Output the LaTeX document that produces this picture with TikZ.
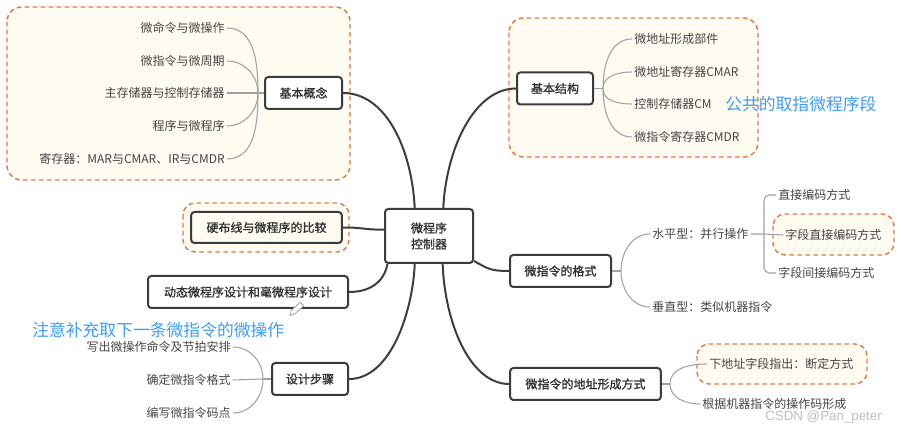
\documentclass[tikz,border=0pt]{standalone}
\usepackage{fontspec}
\usepackage{xcolor}
\setmainfont{Noto Sans CJK SC}
\newfontfamily\boxfont{Noto Sans CJK SC}[FakeBold=1]
\newfontfamily\wmfont{Liberation Sans}

\definecolor{boxline}{HTML}{3B3B3B}
\definecolor{boxtext}{HTML}{303030}
\definecolor{leaftext}{HTML}{454545}
\definecolor{trunkcol}{HTML}{3E3E3E}
\definecolor{twigcol}{HTML}{A2A2A2}
\definecolor{dashorange}{HTML}{E2793F}
\definecolor{cream}{HTML}{FEFBF1}
\definecolor{noteblue}{HTML}{3E9DF2}
\definecolor{wmgray}{HTML}{BDBDBD}

\tikzset{
  topic/.style={draw=boxline, line width=1.5pt, rounded corners=2.5pt, fill=white,
    text=boxtext, minimum height=24pt, inner sep=0pt, font=\boxfont\fontsize{9}{12}\selectfont},
  leaf/.style={text=leaftext, inner sep=1.5pt, font=\fontsize{9}{12}\selectfont},
  trunk/.style={draw=trunkcol, line width=1.5pt},
  twig/.style={draw=twigcol, line width=0.8pt},
  group/.style={draw=dashorange, fill=cream, dash pattern=on 3.5pt off 2.5pt, line width=1.1pt},
  note/.style={text=noteblue, inner sep=0pt, font=\fontsize{12.6}{14}\selectfont}
}

\begin{document}
\begin{tikzpicture}[x=0.75pt,y=-0.75pt]
\useasboundingbox (0,0) rectangle (900,434);

% dashed groups
\draw[group, rounded corners=11pt] (7,7) rectangle (350,180);
\draw[group, rounded corners=11pt] (509,18) rectangle (758,157);
\draw[group, rounded corners=9pt] (183,203) rectangle (349,252);
\draw[group, rounded corners=9pt] (773,214) rectangle (894,255);
\draw[group, rounded corners=9pt] (697,344) rectangle (867,384);

% main topics
\node[topic, minimum width=66pt, minimum height=40.5pt, align=center] (ctrl) at (429,236) {微程序\\控制器};
\node[topic, minimum width=57.75pt] (gn) at (303.5,93) {基本概念};
\node[topic, minimum width=57pt] (jg) at (555,88.5) {基本结构};
\node[topic, minimum width=113pt, minimum height=23.25pt, fill=cream] (yb) at (266.5,227.5) {硬布线与微程序的比较};
\node[topic, minimum width=150pt] (dt) at (248,292) {动态微程序设计和毫微程序设计};
\node[topic, minimum width=57pt] (sj) at (310,379) {设计步骤};
\node[topic, minimum width=75.75pt] (gs) at (560.5,271) {微指令的格式};
\node[topic, minimum width=113pt] (dz) at (585.5,384) {微指令的地址形成方式};

% trunks
\draw[trunk] (gn.east) .. controls +(43,0) and +(-3,-59) .. (ctrl.117);
\draw[trunk] (jg.west) .. controls +(-42,0) and +(3,-59) .. (ctrl.63);
\draw[trunk] (yb.east) .. controls +(22,0) and +(-22,0) .. (ctrl.172);
\draw[trunk] (dt.east) .. controls +(27,0) and +(-2,12) .. (ctrl.214);
\draw[trunk] (sj.east) .. controls +(42,0) and +(-2,47) .. (ctrl.243);
\draw[trunk] (gs.west) .. controls +(-18,0) and +(14,8) .. (ctrl.331);
\draw[trunk] (dz.west) .. controls +(-40,0) and +(2,57) .. (ctrl.296);

% 基本概念
\node[leaf, anchor=east] (gn1) at (227,28) {微命令与微操作};
\node[leaf, anchor=east] (gn2) at (227,61) {微指令与微周期};
\node[leaf, anchor=east] (gn3) at (227,93) {主存储器与控制存储器};
\node[leaf, anchor=east] (gn4) at (227,126) {程序与微程序};
\node[leaf, anchor=east] (gn5) at (227,159) {寄存器：MAR与CMAR、IR与CMDR};
\coordinate (gnj) at (258,93);
\draw[twig] (gn.west) -- (gnj);
\draw[twig] (gn1.east) to[out=0,in=90] (gnj);
\draw[twig] (gn2.east) to[out=0,in=90] (gnj);
\draw[twig] (gn3.east) -- (gnj);
\draw[twig] (gn4.east) to[out=0,in=-90] (gnj);
\draw[twig] (gn5.east) to[out=0,in=-90] (gnj);

% 基本结构
\node[leaf, anchor=west] (jg1) at (632,39) {微地址形成部件};
\node[leaf, anchor=west] (jg2) at (632,72) {微地址寄存器CMAR};
\node[leaf, anchor=west] (jg3) at (632,104) {控制存储器CM};
\node[leaf, anchor=west] (jg4) at (632,137) {微指令寄存器CMDR};
\coordinate (jgj) at (603,88.5);
\draw[twig] (jg.east) -- (jgj);
\draw[twig] (jgj) to[out=90,in=180] (jg1.west);
\draw[twig] (jgj) to[out=90,in=180] (jg2.west);
\draw[twig] (jgj) to[out=-90,in=180] (jg3.west);
\draw[twig] (jgj) to[out=-90,in=180] (jg4.west);
\node[note, anchor=west] (gg) at (725,104) {公共的取指微程序段};

% 设计步骤
\node[leaf, anchor=east] (sj1) at (233,347) {写出微操作命令及节拍安排};
\node[leaf, anchor=east] (sj2) at (233,380) {确定微指令格式};
\node[leaf, anchor=east] (sj3) at (233,413) {编写微指令码点};
\coordinate (sjj) at (263,379);
\draw[twig] (sj.west) -- (sjj);
\draw[twig] (sj1.east) to[out=0,in=90] (sjj);
\draw[twig] (sj2.east) -- (sjj);
\draw[twig] (sj3.east) to[out=0,in=-90] (sjj);
\node[note, anchor=west] (zy) at (32,330) {注意补充取下一条微指令的微操作};

% pencil mark
\draw[twigcol, fill=white, line width=0.6pt, line join=round] (300.3,302.2) -- (303.7,305.8) -- (294.6,314.1) -- (290,315.5) -- (291.2,310.5) -- cycle;

% 微指令的格式
\node[leaf, anchor=west] (sp) at (650,234) {水平型：并行操作};
\node[leaf, anchor=west] (cz) at (650,307) {垂直型：类似机器指令};
\coordinate (gsj) at (621,271);
\draw[twig] (gs.east) -- (gsj);
\draw[twig] (gsj) to[out=90,in=180] (sp.west);
\draw[twig] (gsj) to[out=-90,in=180] (cz.west);
\node[leaf, anchor=west] (zj) at (776,195) {直接编码方式};
\node[leaf, anchor=west] (zd) at (783,235) {字段直接编码方式};
\node[leaf, anchor=west] (jj) at (776,273) {字段间接编码方式};
\coordinate (spj) at (764,234);
\draw[twig] (sp.east) -- (spj) -- (zd.west);
\draw[twig, rounded corners=4pt] (spj) |- (zj.west);
\draw[twig, rounded corners=4pt] (spj) |- (jj.west);

% 微指令的地址形成方式
\node[leaf, anchor=west] (dz1) at (707,364) {下地址字段指出：断定方式};
\node[leaf, anchor=west] (dz2) at (700,404) {根据机器指令的操作码形成};
\coordinate (dzj) at (670,384);
\draw[twig] (dz.east) -- (dzj);
\draw[twig] (dzj) to[out=90,in=180] (dz1.west);
\draw[twig] (dzj) to[out=-90,in=180] (dz2.west);

% watermark
\node[anchor=west, inner sep=0pt, text=wmgray, font=\wmfont\fontsize{10}{12}\selectfont] (wm) at (765,417) {CSDN @Pan\_peter};
\end{tikzpicture}
\end{document}
